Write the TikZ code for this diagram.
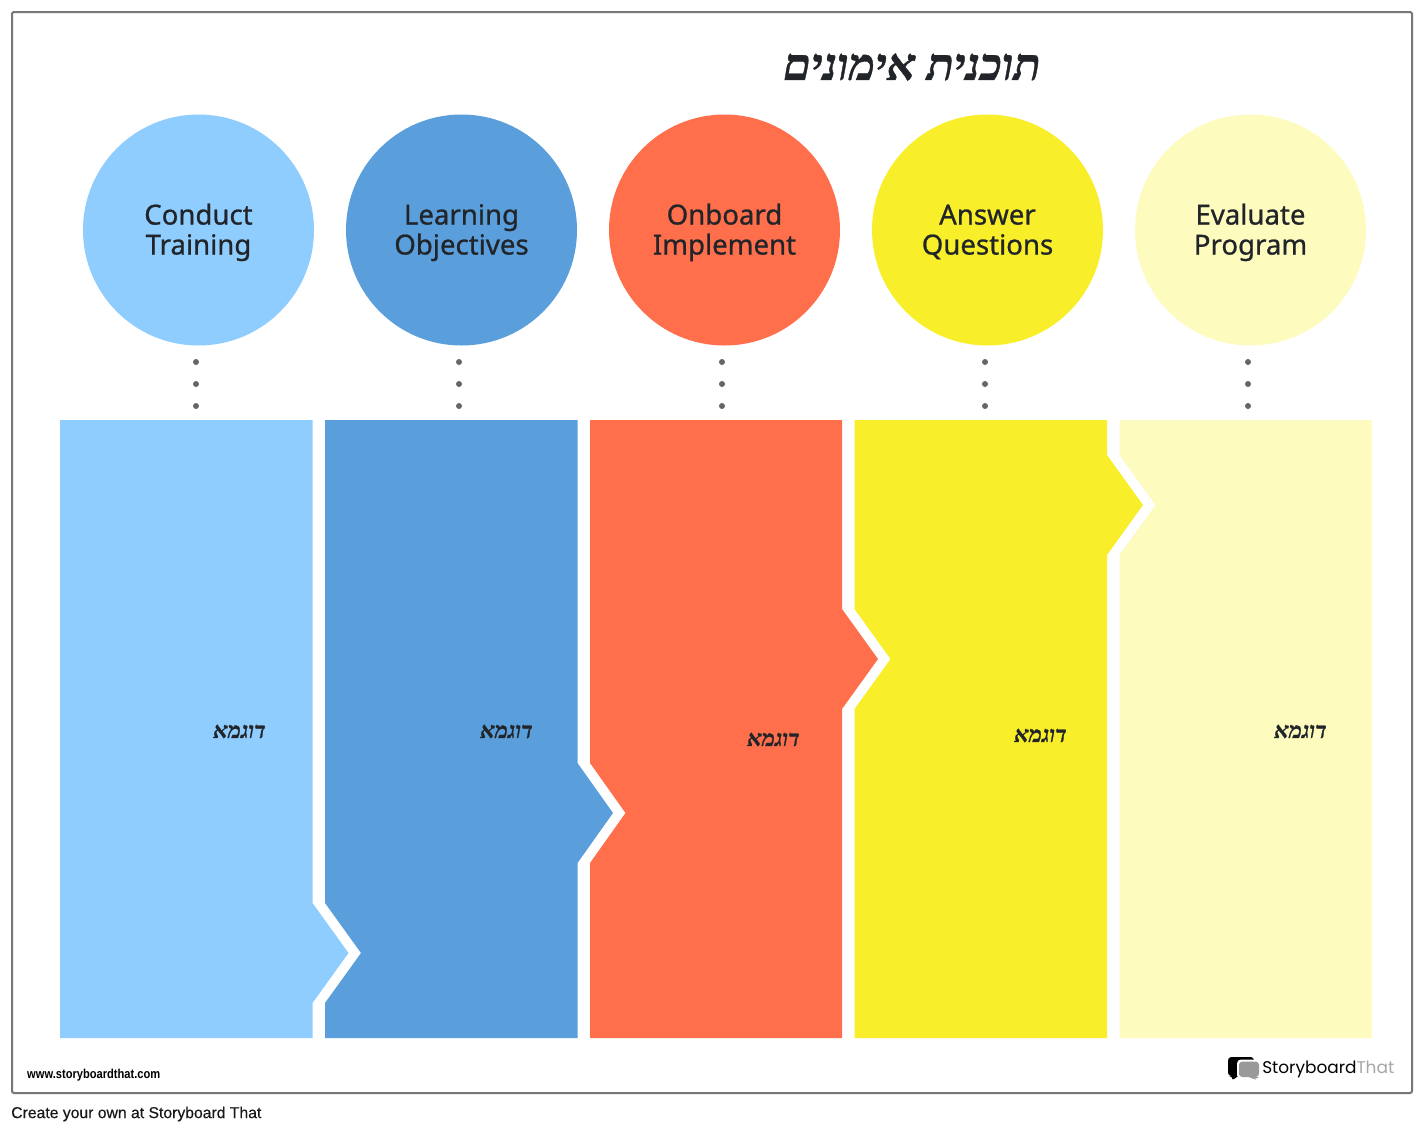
\documentclass[tikz,border=0pt]{standalone}
\usepackage{fontspec}
\setmainfont{Liberation Sans}
\newfontfamily\hebfont[Script=Hebrew,BoldItalicFeatures={FakeBold=0.9}]{Liberation Serif}
\newfontfamily\headfont[FakeBold=0.8]{Noto Sans}
\newfontfamily\logofont{Poppins}
\newfontfamily\creditfont[FakeBold=0.4]{Liberation Sans}
\TeXXeTstate=1
\usetikzlibrary{positioning}
\definecolor{skyblue}{HTML}{90CDFF}
\definecolor{midblue}{HTML}{5A9FDB}
\definecolor{coral}{HTML}{FF6F4B}
\definecolor{lemon}{HTML}{F9EE2A}
\definecolor{cream}{HTML}{FEFBBE}
\definecolor{inktext}{HTML}{212529}
\definecolor{framegray}{HTML}{777777}
\definecolor{dotgray}{HTML}{666666}

\begin{document}
\begin{tikzpicture}[
      x=0.75pt, y=-0.75pt, node distance=24pt,
      headcircle/.style={circle, inner sep=0pt, outer sep=0pt, minimum size=173.25pt, align=center,
        text=inktext, font=\headfont\fontsize{20.7}{22.5}\selectfont,
        text height=42.8pt, text depth=6pt},
      dotmark/.style={circle, fill=dotgray, inner sep=0pt, minimum size=4.5pt},
      sample/.style={text=inktext, font=\hebfont\bfseries\itshape\fontsize{16.8}{17}\selectfont}
      ]

      \path[use as bounding box, fill=white] (0,0) rectangle (1425,1132);
      \draw[framegray, line width=1.5pt, rounded corners=1.5pt] (12,12) rectangle (1412,1093);

      \node[text=inktext, font=\hebfont\bfseries\itshape\fontsize{33.5}{34}\selectfont] (title) at (912,67) {\beginR תוכנית אימונים\endR};

      % Les cercles du haut.
      \node[headcircle, fill=skyblue] (conduct) at (198.5,230) {Conduct\\Training};
      \node[headcircle, fill=midblue, right=of conduct] (learning) {Learning\\Objectives};
      \node[headcircle, fill=coral, right=of learning] (onboard) {Onboard\\Implement};
      \node[headcircle, fill=lemon, right=of onboard] (answer) {Answer\\Questions};
      \node[headcircle, fill=cream, right=of answer] (evaluate) {Evaluate\\Program};

      \node[dotmark] (dot1a) at (196,362) {};
      \node[dotmark] (dot1b) at (196,384) {};
      \node[dotmark] (dot1c) at (196,406) {};
      \node[dotmark] (dot2a) at (459,362) {};
      \node[dotmark] (dot2b) at (459,384) {};
      \node[dotmark] (dot2c) at (459,406) {};
      \node[dotmark] (dot3a) at (722,362) {};
      \node[dotmark] (dot3b) at (722,384) {};
      \node[dotmark] (dot3c) at (722,406) {};
      \node[dotmark] (dot4a) at (985,362) {};
      \node[dotmark] (dot4b) at (985,384) {};
      \node[dotmark] (dot4c) at (985,406) {};
      \node[dotmark] (dot5a) at (1248,362) {};
      \node[dotmark] (dot5b) at (1248,384) {};
      \node[dotmark] (dot5c) at (1248,406) {};

      % Les colonnes, chacune entre dans la suivante.
      \fill[skyblue] (60,420) -- (312.5,420) -- (312.5,903) -- (348.5,953) -- (312.5,1003) -- (312.5,1038) -- (60,1038) -- cycle;
      \fill[midblue] (325,420) -- (577.5,420) -- (577.5,763) -- (613,813) -- (577.5,863) -- (577.5,1038) -- (325,1038) -- (325,1003) -- (361,953) -- (325,903) -- cycle;
      \fill[coral] (590,420) -- (842,420) -- (842,609) -- (878,659) -- (842,709) -- (842,1038) -- (590,1038) -- (590,863) -- (625.5,813) -- (590,763) -- cycle;
      \fill[lemon] (854.5,420) -- (1107,420) -- (1107,455) -- (1143,505) -- (1107,555) -- (1107,1038) -- (854.5,1038) -- (854.5,709) -- (890.5,659) -- (854.5,609) -- cycle;
      \fill[cream] (1119.5,420) -- (1371.5,420) -- (1371.5,1038) -- (1119.5,1038) -- (1119.5,555) -- (1155.5,505) -- (1119.5,455) -- cycle;

      \node[sample] (sample1) at (239.5,731.5) {\beginR דוגמא\endR};
      \node[sample] (sample2) at (506.5,731.5) {\beginR דוגמא\endR};
      \node[sample] (sample3) at (773.5,739.5) {\beginR דוגמא\endR};
      \node[sample] (sample4) at (1040.5,735.5) {\beginR דוגמא\endR};
      \node[sample] (sample5) at (1300.5,731.5) {\beginR דוגמא\endR};

      % Le logo et les mentions du bas.
      \fill[black, rounded corners=2.5pt] (1228,1057) -- (1254,1057) -- (1254,1076) -- (1237,1076) -- (1232.5,1081) -- (1232.5,1076) -- (1228,1076) -- cycle;
      \fill[white, rounded corners=3pt] (1237,1059.5) rectangle (1261,1079);
      \fill[black!40, rounded corners=2.5pt] (1239,1061.5) -- (1259,1061.5) -- (1259,1077) -- (1256,1077) -- (1255,1080.5) -- (1251,1077) -- (1239,1077) -- cycle;
      \node[anchor=west, inner sep=0pt, font=\logofont\fontsize{12.7}{13}\selectfont] (logotext) at (1262,1069) {Storyboard\textcolor{black!35}{That}};
      \node[anchor=west, inner sep=0pt, font=\bfseries\fontsize{9.7}{10}\selectfont, xscale=0.86] (website) at (27,1075) {www.storyboardthat.com};
      \node[anchor=west, inner sep=0pt, text=black!90, font=\creditfont\fontsize{11.8}{12}\selectfont] (credit) at (11,1114) {Create your own at Storyboard That};
    \end{tikzpicture}
\end{document}
